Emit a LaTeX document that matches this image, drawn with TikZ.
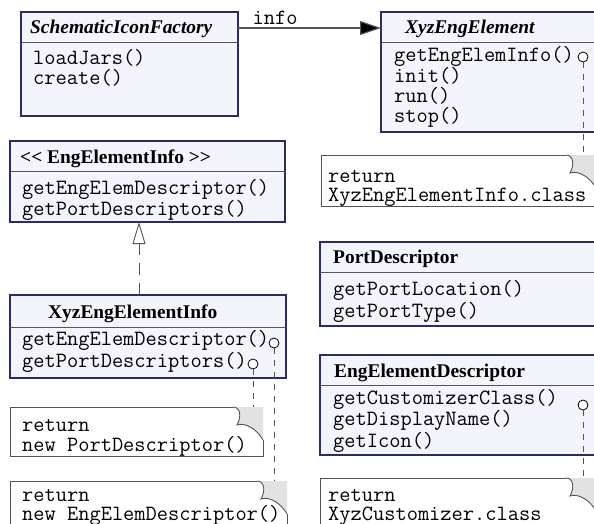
\documentclass[tikz,border=0pt]{standalone}
\usepackage{fontspec}
\setmainfont{Liberation Serif}
\usetikzlibrary{arrows.meta}

\definecolor{boxfill}{RGB}{244,244,252}
\definecolor{boxline}{RGB}{44,44,100}
\definecolor{noteline}{RGB}{85,85,85}
\definecolor{foldfill}{RGB}{226,226,226}

\tikzset{
	classbox/.style={draw=boxline,fill=boxfill,line width=1.2pt,anchor=north west,inner sep=0,outer sep=0},
	notebox/.style={draw=noteline,fill=white,line width=0.9pt,anchor=north west,inner sep=0,outer sep=0},
	divider/.style={draw=noteline,line width=0.9pt},
	classname/.style={anchor=base west,inner sep=0,font=\fontsize{19.4}{20}\selectfont\bfseries},
	ops/.style={anchor=base west,inner sep=0,align=left,font=\fontsize{21.8}{20}\selectfont\ttfamily},
	lolli/.style={draw=black,fill=white,circle,inner sep=0,outer sep=0,minimum size=10pt,line width=0.8pt},
	tie/.style={draw=noteline,dash pattern=on 6pt off 6pt,line width=0.8pt},
	realize/.style={draw=noteline,line width=0.9pt,dash pattern=on 12pt off 8pt,-{Triangle[open,length=22pt,width=13pt]}},
	assoc/.style={draw=noteline,line width=1.2pt,-{Triangle[length=21pt,width=14pt,fill=black]}},
}

% dog-ear corner of a note
\newcommand{\dogear}[1]{%
	\fill[white] ([shift={(-30pt,1pt)}]#1.north east) rectangle ([shift={(1pt,-33pt)}]#1.north east);
	\fill[foldfill] ([xshift=-30pt]#1.north east) -- (#1.north east) -- ([yshift=-33pt]#1.north east)
		.. controls ([shift={(-6pt,-22pt)}]#1.north east) and ([shift={(-18pt,-15pt)}]#1.north east) .. ([shift={(-26pt,-18pt)}]#1.north east)
		.. controls ([shift={(-21pt,-9pt)}]#1.north east) and ([shift={(-23pt,0pt)}]#1.north east) .. cycle;
	\draw[noteline,line width=0.9pt] ([xshift=-30pt]#1.north east)
		.. controls ([shift={(-23pt,0pt)}]#1.north east) and ([shift={(-21pt,-9pt)}]#1.north east) .. ([shift={(-26pt,-18pt)}]#1.north east)
		.. controls ([shift={(-18pt,-15pt)}]#1.north east) and ([shift={(-6pt,-22pt)}]#1.north east) .. ([yshift=-33pt]#1.north east);
}

\begin{document}
\begin{tikzpicture}[x=1pt,y=-1pt]
	\useasboundingbox (0,0) rectangle (594,524);
	\clip (0,0) rectangle (594,524);

	% classes (ops nodes sit on the baseline of their last line)
	\node[classbox,minimum width=217pt,minimum height=104pt] (sif) at (21,12) {};
	\draw[divider] ([yshift=-30pt]sif.north west) -- ([yshift=-30pt]sif.north east);
	\node[classname,font=\fontsize{19.4}{20}\selectfont\bfseries\itshape] (sif-name) at (30,34) {SchematicIconFactory};
	\node[ops] (sif-ops) at (33,85) {loadJars()\\create()};

	\node[classbox,minimum width=216pt,minimum height=120pt] (xee) at (381,12) {};
	\draw[divider] ([yshift=-30pt]xee.north west) -- ([yshift=-30pt]xee.north east);
	\node[classname,font=\fontsize{19.4}{20}\selectfont\bfseries\itshape] (xee-name) at (405,34) {XyzEngElement};
	\node[ops] (xee-ops) at (394,123) {getEngElemInfo()\\init()\\run()\\stop()};
	\node[lolli] (xee-lol) at (583,57) {};

	\node[classbox,minimum width=275pt,minimum height=81pt] (eei) at (10,141) {};
	\draw[divider] ([yshift=-30pt]eei.north west) -- ([yshift=-30pt]eei.north east);
	\node[classname] (eei-name) at (20,163) {{<}{<} EngElementInfo {>}{>}};
	\node[ops,font=\fontsize{21.8}{21}\selectfont\ttfamily] (eei-ops) at (22,215) {getEngElemDescriptor()\\getPortDescriptors()};

	\node[classbox,minimum width=276pt,minimum height=83pt] (xei) at (10,295) {};
	\draw[divider] ([yshift=-32pt]xei.north west) -- ([yshift=-32pt]xei.north east);
	\node[classname] (xei-name) at (48,318) {XyzEngElementInfo};
	\node[ops] (xei-ops) at (22,367) {getEngElemDescriptor()\\getPortDescriptors()};
	\node[lolli] (xei-lol1) at (274,343) {};
	\node[lolli] (xei-lol2) at (253,364) {};

	\node[classbox,minimum width=277pt,minimum height=84pt] (pd) at (320,242) {};
	\draw[divider] ([yshift=-30pt]pd.north west) -- ([yshift=-30pt]pd.north east);
	\node[classname] (pd-name) at (333,263) {PortDescriptor};
	\node[ops,font=\fontsize{21.8}{19}\selectfont\ttfamily] (pd-ops) at (333,317) {getPortLocation()\\getPortType()};

	\node[classbox,minimum width=277pt,minimum height=100pt] (eed) at (320,355) {};
	\draw[divider] ([yshift=-30pt]eed.north west) -- ([yshift=-30pt]eed.north east);
	\node[classname] (eed-name) at (334,377) {EngElementDescriptor};
	\node[ops,font=\fontsize{21.8}{18.5}\selectfont\ttfamily] (eed-ops) at (333,447) {getCustomizerClass()\\getDisplayName()\\getIcon()};
	\node[lolli] (eed-lol) at (583,405) {};

	% notes
	\node[notebox,minimum width=275pt,minimum height=51pt] (retinfo) at (321,155) {};
	\dogear{retinfo}
	\node[ops,font=\fontsize{21.8}{19}\selectfont\ttfamily] (retinfo-txt) at (328,201) {return\\XyzEngElementInfo.class};

	\node[notebox,minimum width=253pt,minimum height=49pt] (retport) at (10,407) {};
	\dogear{retport}
	\node[ops] (retport-txt) at (22,451) {return\\new PortDescriptor()};

	\node[notebox,minimum width=277pt,minimum height=52pt] (retdesc) at (10,481) {};
	\dogear{retdesc}
	\node[ops,font=\fontsize{21.8}{19}\selectfont\ttfamily] (retdesc-txt) at (22,520) {return\\new EngElemDescriptor()};

	\node[notebox,minimum width=276pt,minimum height=52pt] (retcust) at (320,478) {};
	\dogear{retcust}
	\node[ops,font=\fontsize{21.8}{18.5}\selectfont\ttfamily] (retcust-txt) at (328,520) {return\\XyzCustomizer.class};

	% connectors
	\draw[assoc] ([yshift=-16pt]sif.north east) -- ([yshift=-16pt]xee.north west)
		node[pos=0.26,above=3pt,font=\fontsize{21.8}{20}\selectfont\ttfamily,inner sep=0] (info) {info};
	\coordinate (inh) at (139,0);
	\draw[realize] (xei.north -| inh) -- (eei.south -| inh);
	\draw[tie] (xee-lol) -- (xee-lol |- retinfo.north);
	\draw[tie] (xei-lol1) -- (xei-lol1 |- retdesc.north);
	\draw[tie] (xei-lol2) -- (xei-lol2 |- retport.north);
	\draw[tie] (eed-lol) -- (eed-lol |- retcust.north);
\end{tikzpicture}
\end{document}
